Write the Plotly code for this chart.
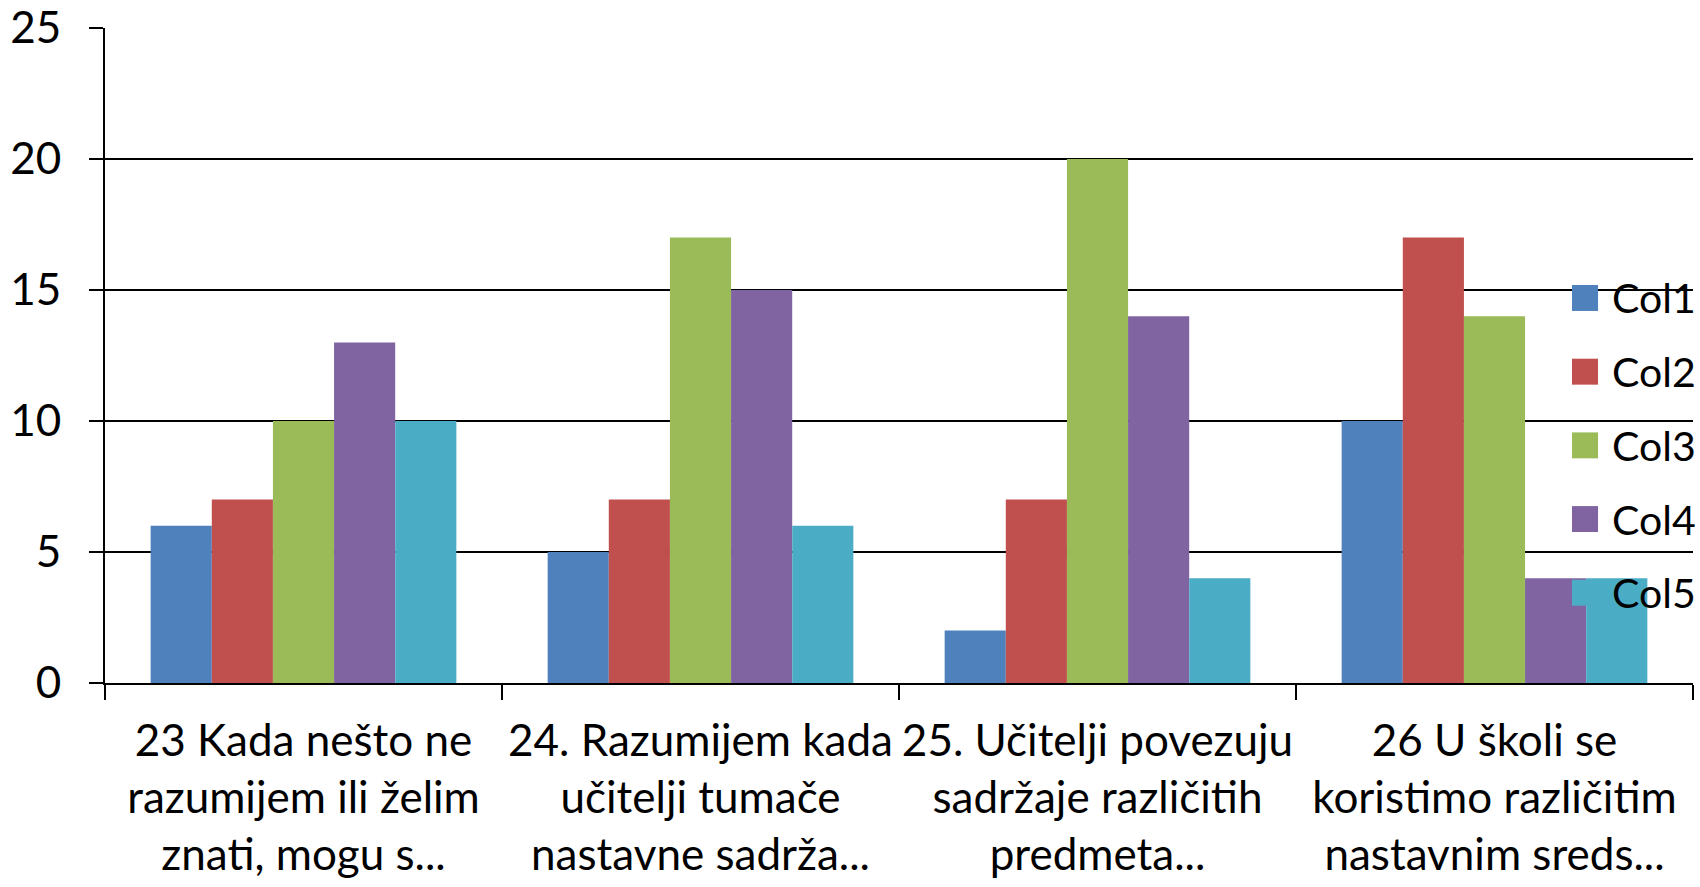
import plotly.graph_objects as go

categories = [
    "23 Kada nešto ne<br>razumijem ili želim<br>znati, mogu s...",
    "24. Razumijem kada<br>učitelji tumače<br>nastavne sadrža...",
    "25. Učitelji povezuju<br>sadržaje različitih<br>predmeta...",
    "26 U školi se<br>koristimo različitim<br>nastavnim sreds...",
]
series_names = ["Col1", "Col2", "Col3", "Col4", "Col5"]
col1 = [6, 5, 2, 10]
col2 = [7, 7, 7, 17]
col3 = [10, 17, 20, 14]
col4 = [13, 15, 14, 4]
col5 = [10, 6, 4, 4]
series_values = [col1, col2, col3, col4, col5]
colors = ["#4F81BD", "#C0504D", "#9BBB59", "#8064A2", "#4BACC6"]
y_ticks = [0, 5, 10, 15, 20, 25]

FONT = "Lato, 'Liberation Sans', sans-serif"
FS = 44
LEG_FS = 41

fig = go.Figure()
for name, vals, c in zip(series_names, series_values, colors):
    fig.add_trace(go.Bar(x=categories, y=vals, name=name, marker=dict(color=c, line=dict(width=0)),
                         showlegend=False))

# manual legend (large square swatches like the reference)
leg_x0, leg_x1, leg_tx = 0.9238, 0.9402, 0.948
leg_y0, leg_dy, half = 0.5878, 0.1125, 0.0198
shapes, annos = [], []
for i, (name, c) in enumerate(zip(series_names, colors)):
    yc = leg_y0 - i * leg_dy
    shapes.append(dict(type="rect", xref="paper", yref="paper", x0=leg_x0, x1=leg_x1,
                       y0=yc - half, y1=yc + half, fillcolor=c, line=dict(width=0), layer="above"))
    annos.append(dict(xref="paper", yref="paper", x=leg_tx, y=yc, text=name, showarrow=False,
                      xanchor="left", yanchor="middle", font=dict(size=LEG_FS, color="black")))

fig.update_layout(
    width=1700, height=887, autosize=False,
    margin=dict(l=105, r=7, t=28, b=204),
    plot_bgcolor="white", paper_bgcolor="white",
    barmode="group", bargap=0.23, bargroupgap=0,
    font=dict(family=FONT, size=FS, color="black"),
    showlegend=False,
    shapes=shapes, annotations=annos,
    xaxis=dict(showline=True, linecolor="black", linewidth=2, ticks="outside", tickson="boundaries",
               ticklen=15, tickcolor="black", tickwidth=2, showgrid=False, automargin=False,
               tickangle=0, ticklabelstandoff=18, tickfont=dict(size=FS)),
    yaxis=dict(range=[0, 25], tickvals=y_ticks, showline=True, linecolor="black", linewidth=2,
               ticks="outside", ticklen=14, tickcolor="black", tickwidth=2, automargin=False,
               showgrid=True, gridcolor="black", gridwidth=2, zeroline=False,
               ticklabelstandoff=19, tickfont=dict(size=FS)),
)
# remove the default 8px page margin so the figure fills the window exactly
fig.write_html("out.html", config={"displayModeBar": False},
               post_script="document.body.style.margin='0';")
